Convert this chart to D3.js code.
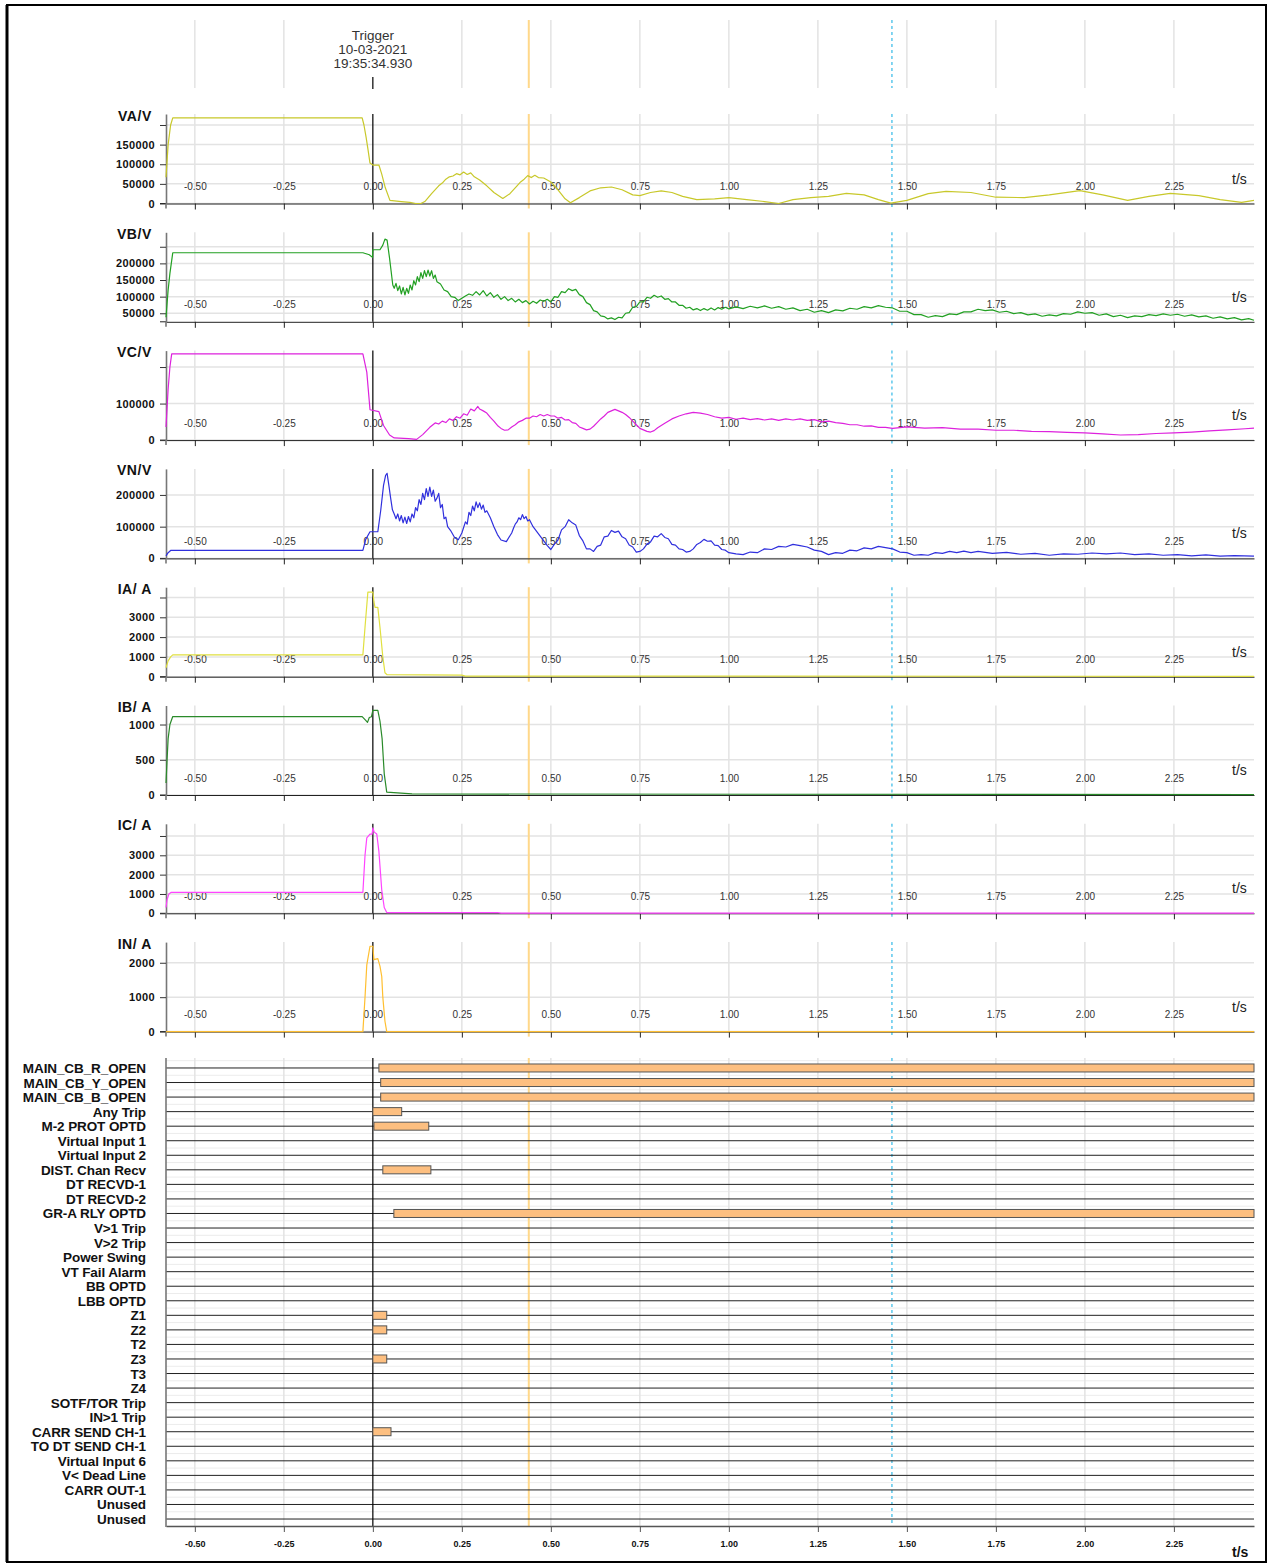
<!DOCTYPE html>
<html><head><meta charset="utf-8">
<script src="https://cdn.jsdelivr.net/npm/d3@7"></script>
<style>
body{margin:0;background:#fff;}
svg{display:block;font-family:"Liberation Sans",Arial,sans-serif;}
</style>
</head><body>
<svg id="chart" width="1270" height="1564"></svg>
<script>
// ---------- DATA ----------
const xTicks = [-0.5,-0.25,0,0.25,0.5,0.75,1,1.25,1.5,1.75,2,2.25];
const xTickLabels = ["-0.50","-0.25","0.00","0.25","0.50","0.75","1.00","1.25","1.50","1.75","2.00","2.25"];
const timeDomain = [-0.581, 2.475];
const triggerText = ["Trigger","10-03-2021","19:35:34.930"];
const cursorOrange = 0.438;
const cursorCyan = 1.458;

const panelNames = ["VA/V","VB/V","VC/V","VN/V","IA/ A","IB/ A","IC/ A","IN/ A"];
const panelColors = ["#c8c82a","#22a022","#dd22dd","#3030dd","#e0e040","#2a8a2a","#ff44ff","#ffbf30"];
const panelDomains = [[0,228000],[24300,293500],[0,245000],[0,282000],[0,4520],[0,1270],[0,4630],[0,2600]];
const panelTicks = [
  [0,50000,100000,150000,200000],
  [50000,100000,150000,200000,250000],
  [0,100000,200000],
  [0,100000,200000],
  [0,1000,2000,3000,4000],
  [0,500,1000],
  [0,1000,2000,3000,4000],
  [0,1000,2000]
];
const panelTickLabels = [
  ["0","50000","100000","150000",""],
  ["50000","100000","150000","200000",""],
  ["0","100000",""],
  ["0","100000","200000"],
  ["0","1000","2000","3000",""],
  ["0","500","1000"],
  ["0","1000","2000","3000",""],
  ["0","1000","2000"]
];

// VA (V)
const vaT = [-0.581,-0.575,-0.568,-0.562,-0.030,-0.025,-0.019,-0.014,-0.008,0.000,0.017,0.025,0.035,0.048,0.080,0.104,0.120,0.135,0.146,0.165,0.185,0.195,0.205,0.215,0.225,0.235,0.245,0.255,0.265,0.275,0.285,0.300,0.320,0.340,0.365,0.385,0.405,0.415,0.425,0.435,0.445,0.455,0.465,0.480,0.500,0.520,0.540,0.555,0.580,0.610,0.640,0.670,0.700,0.730,0.750,0.780,0.810,0.840,0.870,0.910,0.960,1.000,1.050,1.100,1.140,1.180,1.230,1.280,1.330,1.380,1.420,1.455,1.500,1.560,1.610,1.680,1.750,1.830,1.900,1.986,2.050,2.120,2.180,2.240,2.320,2.380,2.440,2.475];
const vaV = [67000,150000,200000,218000,218000,200000,169000,140000,103000,98000,98000,75000,40000,8000,5000,3000,0,0,5000,25000,45000,52000,62000,68000,70000,76000,73000,80000,74000,78000,68000,60000,45000,28000,13000,25000,45000,55000,62000,71000,66000,72000,66000,65000,55000,35000,12000,2000,15000,32000,40000,42000,35000,22000,20000,28000,32000,28000,18000,10000,12000,15000,10000,5000,0,10000,15000,18000,26000,22000,10000,1000,8000,25000,31000,28000,16000,15000,22000,33000,22000,8000,18000,26000,20000,10000,3000,8000];

// VB (V)
const vbT = [-0.581,-0.575,-0.570,-0.562,-0.028,-0.010,-0.001,0.000,0.020,0.028,0.034,0.040,0.047,0.056,0.060,0.065,0.070,0.075,0.080,0.085,0.090,0.095,0.100,0.105,0.110,0.115,0.120,0.125,0.130,0.135,0.140,0.145,0.150,0.155,0.160,0.165,0.170,0.175,0.180,0.190,0.200,0.210,0.220,0.230,0.240,0.250,0.260,0.270,0.280,0.290,0.300,0.310,0.320,0.330,0.340,0.350,0.360,0.370,0.380,0.390,0.400,0.410,0.420,0.430,0.440,0.450,0.460,0.470,0.480,0.490,0.500,0.510,0.520,0.530,0.540,0.550,0.560,0.570,0.580,0.590,0.600,0.610,0.620,0.630,0.640,0.650,0.660,0.670,0.680,0.690,0.700,0.710,0.720,0.730,0.740,0.750,0.760,0.770,0.780,0.790,0.800,0.810,0.820,0.830,0.840,0.850,0.860,0.870,0.880,0.890,0.900,0.910,0.920,0.930,0.940,0.950,0.960,0.970,0.980,0.990,1.000,1.020,1.040,1.060,1.080,1.100,1.120,1.140,1.160,1.180,1.200,1.220,1.240,1.260,1.280,1.300,1.320,1.340,1.360,1.380,1.400,1.420,1.440,1.460,1.480,1.500,1.520,1.540,1.560,1.580,1.600,1.620,1.640,1.660,1.680,1.700,1.720,1.740,1.760,1.780,1.800,1.820,1.840,1.860,1.880,1.900,1.920,1.940,1.960,1.980,2.000,2.020,2.040,2.060,2.080,2.100,2.120,2.140,2.160,2.180,2.200,2.220,2.240,2.260,2.280,2.300,2.320,2.340,2.360,2.380,2.400,2.420,2.440,2.460,2.475];
const vbV = [38000,120000,170000,232000,232000,226000,218000,241000,241000,255000,273000,270000,215000,135000,125000,140000,118000,132000,108000,128000,105000,125000,110000,135000,120000,148000,135000,160000,145000,172000,155000,178000,160000,180000,162000,178000,155000,165000,145000,138000,120000,115000,100000,98000,88000,95000,102000,108000,104000,115000,105000,118000,102000,112000,98000,106000,92000,100000,88000,95000,84000,92000,82000,88000,78000,86000,80000,90000,86000,92000,84000,100000,98000,115000,112000,124000,118000,122000,106000,100000,82000,76000,58000,54000,42000,40000,33000,36000,31000,38000,36000,50000,52000,68000,70000,84000,84000,98000,95000,104000,98000,102000,92000,94000,84000,84000,74000,74000,65000,68000,60000,64000,58000,64000,59000,66000,60000,67000,62000,68000,63000,69000,64000,71000,66000,72000,65000,70000,62000,66000,58000,62000,53000,58000,52000,60000,57000,65000,62000,70000,66000,73000,68000,66000,56000,56000,46000,46000,38000,43000,40000,48000,46000,54000,54000,62000,58000,60000,53000,56000,49000,52000,45000,48000,41000,45000,42000,49000,47000,54000,50000,52000,44000,48000,40000,44000,37000,42000,40000,46000,43000,48000,44000,47000,41000,45000,39000,42000,35000,39000,33000,37000,30000,34000,29000];

// VC (V)
const vcT = [-0.581,-0.575,-0.570,-0.565,-0.028,-0.017,-0.008,0.017,0.030,0.047,0.060,0.100,0.123,0.140,0.160,0.175,0.185,0.195,0.205,0.215,0.225,0.235,0.245,0.255,0.265,0.275,0.285,0.295,0.300,0.310,0.320,0.330,0.340,0.350,0.360,0.370,0.380,0.390,0.400,0.410,0.420,0.430,0.440,0.450,0.460,0.470,0.480,0.490,0.500,0.510,0.520,0.530,0.540,0.550,0.560,0.570,0.580,0.590,0.600,0.610,0.620,0.630,0.640,0.650,0.660,0.670,0.680,0.690,0.700,0.710,0.720,0.730,0.740,0.750,0.760,0.770,0.780,0.790,0.800,0.820,0.840,0.860,0.880,0.900,0.920,0.940,0.960,0.980,1.000,1.020,1.040,1.060,1.080,1.100,1.120,1.140,1.160,1.180,1.200,1.220,1.240,1.260,1.280,1.300,1.320,1.340,1.360,1.380,1.400,1.420,1.440,1.460,1.500,1.550,1.600,1.650,1.700,1.750,1.800,1.850,1.900,1.950,2.000,2.050,2.100,2.150,2.200,2.250,2.300,2.350,2.400,2.450,2.475];
const vcV = [36000,140000,200000,236000,236000,186000,83000,78000,40000,14000,6000,4000,2000,15000,35000,47000,44000,52000,48000,58000,54000,64000,60000,72000,68000,85000,80000,92000,85000,80000,74000,62000,52000,40000,32000,27000,28000,36000,42000,50000,54000,60000,60000,66000,64000,70000,66000,70000,66000,66000,60000,62000,55000,56000,48000,46000,36000,32000,28000,30000,38000,48000,58000,66000,76000,80000,84000,80000,76000,70000,62000,52000,42000,32000,28000,24000,22000,26000,34000,46000,58000,66000,72000,76000,74000,70000,64000,60000,62000,57000,60000,56000,59000,55000,58000,54000,58000,55000,58000,54000,56000,50000,52000,48000,46000,42000,42000,38000,39000,35000,35000,32000,36000,33000,34000,30000,30000,27000,27000,24000,23000,21000,20000,17000,14000,15000,18000,20000,22000,25000,28000,31000,33000];

// VN (V)
const vnT = [-0.581,-0.575,-0.568,-0.028,-0.020,-0.008,0.014,0.022,0.030,0.036,0.040,0.045,0.050,0.055,0.060,0.065,0.070,0.075,0.080,0.085,0.090,0.095,0.100,0.105,0.110,0.115,0.120,0.125,0.130,0.135,0.140,0.145,0.150,0.155,0.160,0.165,0.170,0.175,0.180,0.185,0.190,0.195,0.200,0.205,0.210,0.220,0.230,0.240,0.250,0.260,0.265,0.270,0.275,0.280,0.285,0.290,0.295,0.300,0.305,0.310,0.315,0.320,0.330,0.340,0.350,0.360,0.375,0.390,0.395,0.400,0.405,0.410,0.415,0.420,0.425,0.430,0.435,0.440,0.450,0.470,0.490,0.500,0.510,0.520,0.530,0.540,0.550,0.560,0.570,0.580,0.590,0.600,0.610,0.620,0.630,0.640,0.650,0.660,0.670,0.680,0.690,0.700,0.710,0.720,0.730,0.740,0.750,0.760,0.770,0.780,0.790,0.800,0.810,0.820,0.830,0.840,0.850,0.860,0.870,0.880,0.890,0.900,0.910,0.920,0.930,0.940,0.950,0.960,0.970,0.980,0.990,1.000,1.020,1.040,1.060,1.080,1.100,1.120,1.140,1.160,1.180,1.200,1.220,1.240,1.260,1.280,1.300,1.320,1.340,1.360,1.380,1.400,1.420,1.440,1.460,1.480,1.500,1.520,1.540,1.560,1.580,1.600,1.620,1.640,1.660,1.680,1.700,1.740,1.780,1.820,1.860,1.900,1.940,1.980,2.020,2.060,2.100,2.140,2.180,2.220,2.260,2.300,2.340,2.380,2.420,2.475];
const vnV = [8000,18000,25000,25000,60000,84000,84000,150000,230000,262000,268000,230000,190000,153000,140000,125000,140000,118000,135000,112000,130000,110000,132000,115000,140000,128000,160000,150000,185000,170000,205000,185000,220000,195000,225000,195000,215000,180000,190000,205000,160000,170000,125000,130000,100000,85000,65000,59000,80000,115000,108000,145000,135000,165000,150000,178000,160000,175000,155000,168000,145000,150000,128000,100000,75000,58000,53000,80000,95000,108000,115000,128000,122000,138000,125000,132000,118000,122000,100000,70000,40000,28000,45000,58000,90000,100000,122000,112000,105000,72000,55000,30000,30000,22000,38000,42000,68000,70000,88000,82000,86000,68000,62000,42000,36000,20000,22000,30000,45000,52000,70000,68000,78000,66000,62000,44000,42000,30000,28000,20000,22000,30000,44000,50000,60000,54000,55000,42000,40000,28000,26000,18000,14000,12000,20000,18000,30000,28000,38000,36000,44000,40000,36000,26000,22000,12000,18000,16000,26000,24000,33000,30000,38000,34000,30000,20000,18000,10000,12000,10000,18000,16000,22000,18000,23000,18000,22000,16000,19000,13000,16000,10000,14000,13000,17000,14000,17000,12000,14000,10000,12000,8000,11000,7000,9000,7000];

// IA (A)
const iaT = [-0.581,-0.575,-0.568,-0.562,-0.028,-0.022,-0.014,0.000,0.003,0.006,0.014,0.020,0.028,0.034,0.040,0.250,0.260,2.475];
const iaV = [450,800,1000,1100,1100,2500,4270,4270,3800,3500,3500,2500,1000,200,100,80,30,20];

// IB (A)
const ibT = [-0.581,-0.578,-0.575,-0.570,-0.562,-0.030,-0.020,-0.015,-0.010,-0.004,0.000,0.014,0.020,0.026,0.032,0.039,0.110,2.475];
const ibV = [170,500,800,1000,1113,1113,1060,1030,1100,1110,1200,1200,1050,800,300,40,15,5];

// IC (A)
const icT = [-0.581,-0.578,-0.573,-0.567,-0.028,-0.022,-0.017,-0.008,-0.002,0.000,0.004,0.011,0.017,0.025,0.032,0.039,0.350,0.360,2.475];
const icV = [300,700,1000,1080,1080,3000,3900,4100,4100,4420,4200,4100,3200,1200,300,40,40,5,5];

// IN (A)
const inT = [-0.581,-0.028,-0.022,-0.017,-0.008,0.000,0.003,0.014,0.020,0.025,0.028,0.034,0.039,2.475];
const inV = [0,0,1000,1940,2480,2480,2090,2120,1900,1600,1000,300,0,0];

const seriesT = [vaT,vbT,vcT,vnT,iaT,ibT,icT,inT];
const seriesV = [vaV,vbV,vcV,vnV,iaV,ibV,icV,inV];

// Digital channels
const digitalNames = ["MAIN_CB_R_OPEN","MAIN_CB_Y_OPEN","MAIN_CB_B_OPEN","Any Trip","M-2 PROT OPTD","Virtual Input 1","Virtual Input 2","DIST. Chan Recv","DT RECVD-1","DT RECVD-2","GR-A RLY OPTD","V>1 Trip","V>2 Trip","Power Swing","VT Fail Alarm","BB OPTD","LBB OPTD","Z1","Z2","T2","Z3","T3","Z4","SOTF/TOR Trip","IN>1 Trip","CARR SEND CH-1","TO DT SEND CH-1","Virtual Input 6","V< Dead Line","CARR OUT-1","Unused","Unused"];
const digitalChannel = [0,1,2,3,4,7,10,17,18,20,25];
const digitalOn  = [0.017,0.022,0.022,0.000,0.003,0.028,0.059,0.000,0.000,0.000,0.000];
const digitalOff = [2.475,2.475,2.475,0.081,0.157,0.163,2.475,0.039,0.039,0.039,0.051];

// ---------- DRAW ----------
const svg = d3.select("#chart");
const L = 166, R = 1254;
const x = d3.scaleLinear().domain(timeDomain).range([L, R]);

// frame
svg.append("rect").attr("x",7).attr("y",5).attr("width",1259).attr("height",1557)
  .attr("fill","none").attr("stroke","#000").attr("stroke-width",2);
svg.append("line").attr("x1",7).attr("x2",7).attr("y1",5).attr("y2",1562).attr("stroke","#000").attr("stroke-width",3);

const gridCol = "#e3e3e3";
function vLines(g, y0, y1){
  xTicks.forEach(t=>{
    if (t===0) return;
    g.append("line").attr("x1",x(t)).attr("x2",x(t)).attr("y1",y0).attr("y2",y1)
      .attr("stroke",gridCol).attr("stroke-width",1.5);
  });
}
function cursors(g, y0, y1){
  g.append("line").attr("x1",x(cursorOrange)).attr("x2",x(cursorOrange)).attr("y1",y0).attr("y2",y1)
    .attr("stroke","#ffd88a").attr("stroke-width",2);
  g.append("line").attr("x1",x(cursorCyan)).attr("x2",x(cursorCyan)).attr("y1",y0).attr("y2",y1)
    .attr("stroke","#5cc8ec").attr("stroke-width",1.5).attr("stroke-dasharray","3,3");
}

// header
const hdr = svg.append("g");
vLines(hdr, 20, 88);
cursors(hdr, 20, 88);
hdr.append("line").attr("x1",x(0)).attr("x2",x(0)).attr("y1",77).attr("y2",89).attr("stroke","#000").attr("stroke-width",1.2);
triggerText.forEach((s,i)=>{
  hdr.append("text").attr("x",x(0)).attr("y",35+i*14).attr("text-anchor","middle")
    .attr("dominant-baseline","central").attr("font-size",13.5).attr("fill","#333").text(s);
});

// analog panels
panelNames.forEach((name,i)=>{
  const top = 114 + i*118.3;
  const bot = top + 89.5;
  const y = d3.scaleLinear().domain(panelDomains[i]).range([bot, top]);
  const g = svg.append("g");
  panelTicks[i].forEach(v=>{
    g.append("line").attr("x1",L).attr("x2",R).attr("y1",y(v)).attr("y2",y(v))
      .attr("stroke",gridCol).attr("stroke-width",1.5);
  });
  vLines(g, top, bot);
  cursors(g, top, bot+5);
  g.append("line").attr("x1",x(0)).attr("x2",x(0)).attr("y1",top).attr("y2",bot)
    .attr("stroke","#000").attr("stroke-width",1.2);

  const xa = g.append("g").attr("transform",`translate(0,${bot})`)
    .call(d3.axisBottom(x).tickValues(xTicks).tickSize(6).tickSizeOuter(0)
      .tickPadding(-26.5).tickFormat((d,k)=>xTickLabels[k]));
  xa.select(".domain").attr("stroke","#222");
  xa.selectAll(".tick line").attr("stroke","#222");
  xa.selectAll("text").attr("font-size",10).attr("fill","#333").attr("font-family","Liberation Sans, Arial, sans-serif");
  g.append("line").attr("x1",160).attr("x2",L).attr("y1",bot).attr("y2",bot).attr("stroke","#222");

  const ya = g.append("g").attr("transform",`translate(${L},0)`)
    .call(d3.axisLeft(y).tickValues(panelTicks[i]).tickSize(6).tickSizeOuter(0)
      .tickPadding(5).tickFormat((d,k)=>panelTickLabels[i][k]));
  ya.select(".domain").attr("stroke","#777").attr("stroke-width",1.6);
  ya.selectAll(".tick line").attr("stroke","#333");
  ya.selectAll("text").attr("font-size",11).attr("font-weight","bold").attr("fill","#111")
    .attr("letter-spacing",0.4).attr("font-family","Liberation Sans, Arial, sans-serif");
  g.append("line").attr("x1",L).attr("x2",L).attr("y1",bot).attr("y2",bot+5).attr("stroke","#777").attr("stroke-width",1.6);

  g.append("text").attr("x",152).attr("y",top+1.5).attr("text-anchor","end")
    .attr("dominant-baseline","central").attr("font-size",14).attr("font-weight","bold")
    .attr("letter-spacing",0.6).attr("fill","#111").text(name);
  g.append("text").attr("x",1232).attr("y",bot-20).attr("font-size",14).attr("fill","#222").text("t/s");

  const pts = seriesT[i].map((t,k)=>[t, seriesV[i][k]]);
  const line = d3.line().x(d=>x(d[0])).y(d=>y(d[1]));
  g.append("path").attr("d",line(pts)).attr("fill","none")
    .attr("stroke",panelColors[i]).attr("stroke-width",1.2).attr("stroke-linejoin","round");
});

// digital section
const dTop = 1058, dBot = 1526;
const band = d3.scaleBand().domain(d3.range(digitalNames.length)).range([1060.7, 1526.3]);
const bw = band.bandwidth();
const dg = svg.append("g");
d3.range(digitalNames.length+1).forEach(k=>{
  const yy = 1060.7 + k*bw;
  dg.append("line").attr("x1",L).attr("x2",R).attr("y1",yy).attr("y2",yy)
    .attr("stroke","#ececec").attr("stroke-width",1);
});
vLines(dg, dTop, dBot);
cursors(dg, dTop, dBot);
digitalNames.forEach((n,k)=>{
  const cy = band(k)+bw/2;
  dg.append("line").attr("x1",L).attr("x2",R).attr("y1",cy).attr("y2",cy)
    .attr("stroke","#222").attr("stroke-width",1);
  dg.append("text").attr("x",146).attr("y",cy+0.5).attr("text-anchor","end")
    .attr("dominant-baseline","central").attr("font-size",13.5).attr("font-weight","bold")
    .attr("fill","#111").attr("letter-spacing",-0.1).text(n);
});
dg.append("line").attr("x1",x(0)).attr("x2",x(0)).attr("y1",dTop).attr("y2",dBot)
  .attr("stroke","#000").attr("stroke-width",1.2);
digitalChannel.forEach((c,k)=>{
  const cy = band(c)+bw/2;
  dg.append("rect").attr("x",x(digitalOn[k])).attr("y",cy-4)
    .attr("width",x(digitalOff[k])-x(digitalOn[k])).attr("height",8)
    .attr("fill","#fdbf80").attr("stroke","#555").attr("stroke-width",1);
});
const dxa = dg.append("g").attr("transform",`translate(0,${dBot})`)
  .call(d3.axisBottom(x).tickValues(xTicks).tickSize(6).tickSizeOuter(0)
    .tickPadding(8.5).tickFormat((d,k)=>xTickLabels[k]));
dxa.select(".domain").attr("stroke","#555").attr("stroke-width",1.5);
dxa.selectAll(".tick line").attr("stroke","#555");
dxa.selectAll("text").attr("font-size",9).attr("font-weight","bold").attr("fill","#111")
  .attr("font-family","Liberation Sans, Arial, sans-serif");
dg.append("line").attr("x1",L).attr("x2",L).attr("y1",dTop).attr("y2",dBot+1)
  .attr("stroke","#777").attr("stroke-width",1.6);
dg.append("text").attr("x",1232).attr("y",1557).attr("font-size",14).attr("font-weight","bold")
  .attr("fill","#111").text("t/s");
</script>
</body></html>
